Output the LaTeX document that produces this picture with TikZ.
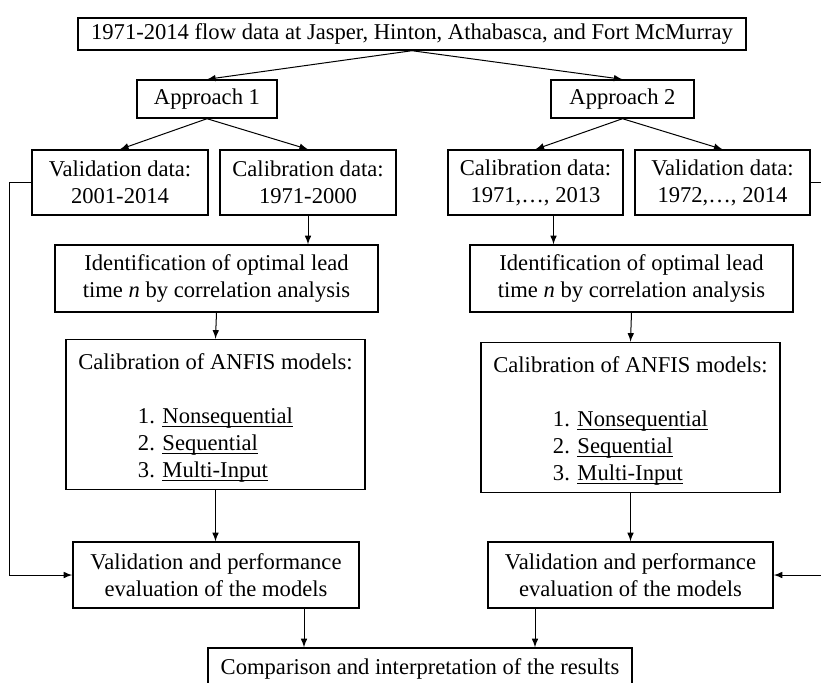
\documentclass[tikz,border=0pt]{standalone}
\usepackage{fontspec}
\setmainfont{Liberation Serif}
\usepackage{tikz}
\newcommand{\uln}[1]{\underline{\smash{#1}}}
\tikzset{every node/.style={align=center}, >= latex, font=\fontsize{11.3}{13.5}\selectfont,
    block/.style={draw, line width=0.7pt, inner sep=2pt}}

\begin{document}
\begin{tikzpicture}[x=0.5pt, y=-0.5pt, line width=0.5pt]
            \useasboundingbox (0,0) rectangle (821,682);
            \clip (0,0) rectangle (821,682);
            \node [block, minimum width=334pt, minimum height=16pt] (src) at (412,34) {1971-2014 flow data at Jasper, Hinton, Athabasca, and Fort McMurray};
            \node [block, minimum width=70pt, minimum height=19pt] (a1) at (207,99) {Approach 1};
            \node [block, minimum width=71.5pt, minimum height=19pt] (a2) at (622.5,99) {Approach 2};
            \node [block, minimum width=88pt, minimum height=32.5pt] (v1) at (120,182.5) {Validation data:\\2001-2014};
            \node [block, minimum width=88pt, minimum height=32.5pt] (c1) at (308,182.5) {Calibration data:\\1971-2000};
            \node [block, minimum width=87.5pt, minimum height=32.5pt] (c2) at (535.5,182.5) {Calibration data:\\1971,…, 2013};
            \node [block, minimum width=87.5pt, minimum height=32.5pt] (v2) at (722.5,182.5) {Validation data:\\1972,…, 2014};
            \node [block, minimum width=161.5pt, minimum height=33.5pt] (id1) at (216.5,278.5) {Identification of optimal lead\\time \textit{n} by correlation analysis};
            \node [block, minimum width=161.5pt, minimum height=33.5pt] (id2) at (631.5,278.5) {Identification of optimal lead\\time \textit{n} by correlation analysis};
            \node [block, minimum width=149.5pt, minimum height=74.5pt] (m1) at (215.5,414.5) {\rule{0pt}{13pt}Calibration of ANFIS models:\\[13.5pt]
                \begin{tabular}[t]{@{}l@{}}1. \uln{Nonsequential}\\2. \uln{Sequential}\\3. \uln{Multi-Input}\end{tabular}};
            \node [block, minimum width=149.5pt, minimum height=74.5pt] (m2) at (630.5,417.5) {\rule{0pt}{13pt}Calibration of ANFIS models:\\[13.5pt]
                \begin{tabular}[t]{@{}l@{}}1. \uln{Nonsequential}\\2. \uln{Sequential}\\3. \uln{Multi-Input}\end{tabular}};
            \node [block, minimum width=143pt, minimum height=33pt] (ev1) at (216,575) {Validation and performance\\evaluation of the models};
            \node [block, minimum width=142.5pt, minimum height=33pt] (ev2) at (630.5,575) {Validation and performance\\evaluation of the models};
            \node [block, minimum width=212pt, minimum height=21pt] (cmp) at (420,669) {Comparison and interpretation of the results};
            \coordinate (c2out) at ([xshift=9pt]c2.south);
            \coordinate (in1) at ([xshift=-58pt]cmp.north);
            \coordinate (in2) at ([xshift=57.5pt]cmp.north);
            \path[->] (src.south) edge (a1.north)
                (src.south) edge (a2.north)
                (a1.south) edge (v1.north)
                (a1.south) edge (c1.north)
                (a2.south) edge (c2.north)
                (a2.south) edge (v2.north)
                (c1.south) edge (c1.south |- id1.north)
                (c2out) edge (c2out |- id2.north)
                (id1.south) edge (m1.north)
                (id2.south) edge (m2.north)
                (m1.south) edge (m1.south |- ev1.north)
                (m2.south) edge (m2.south |- ev2.north)
                (in1 |- ev1.south) edge (in1)
                (in2 |- ev2.south) edge (in2);
            \draw[->] (v1.west) -- ++(-11pt,0) |- (ev1.west);
            \draw[->] (v2.east) -- ++(15pt,0) |- (ev2.east);
        \end{tikzpicture}
\end{document}
